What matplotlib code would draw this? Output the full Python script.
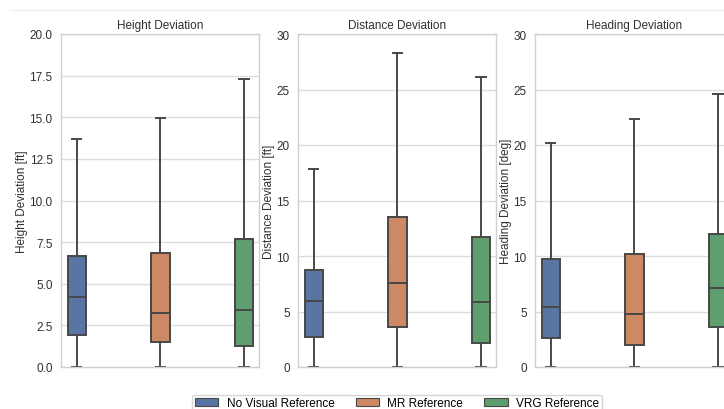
import colorsys
import matplotlib
matplotlib.use("Agg")
import matplotlib.pyplot as plt
import matplotlib.colors as mcolors
from matplotlib.patches import Patch
from matplotlib.lines import Line2D

plt.rcParams['font.family'] = ['Liberation Sans', 'DejaVu Sans']
plt.rcParams['font.size'] = 8.5

groups = ["No Visual Reference", "MR Reference", "VRG Reference"]
base_colors = ["#4c72b0", "#dd8452", "#55a868"]

titles = ["Height Deviation", "Distance Deviation", "Heading Deviation"]
ylabels = ["Height Deviation [ft]", "Distance Deviation [ft]", "Heading Deviation [deg]"]
ylims = [20, 30, 30]
ytick_steps = [2.5, 5, 5]

# per panel: [whislo, q1, median, q3, whishi] for each group
height_stats = [[0, 1.92, 4.22, 6.65, 13.7],
                [0, 1.48, 3.22, 6.82, 14.93],
                [0, 1.28, 3.42, 7.69, 17.28]]
distance_stats = [[0, 2.73, 5.98, 8.77, 17.8],
                  [0, 3.57, 7.6, 13.48, 28.3],
                  [0, 2.13, 5.88, 11.7, 26.1]]
heading_stats = [[0, 2.64, 5.38, 9.76, 20.18],
                 [0, 1.98, 4.77, 10.15, 22.3],
                 [0, 3.63, 7.14, 11.98, 24.6]]
panels = [height_stats, distance_stats, heading_stats]


def desaturate(c, prop=0.75):
    r, g, b = mcolors.to_rgb(c)
    h, l, s = colorsys.rgb_to_hls(r, g, b)
    return colorsys.hls_to_rgb(h, l, s * prop)


colors = [desaturate(c) for c in base_colors]
edge = "#474747"
text_color = "#303030"

fig = plt.figure(figsize=(7.24, 4.10), dpi=100)
lefts = [61, 298, 535]
W, H = 724, 410
axes = []
for i in range(3):
    ax = fig.add_axes([lefts[i] / W, (H - 368) / H, 198 / W, 333 / H])
    axes.append(ax)
    stats = []
    for s in panels[i]:
        stats.append(dict(whislo=s[0], q1=s[1], med=s[2], q3=s[3], whishi=s[4], fliers=[]))
    bp = ax.bxp(stats, positions=[0, 1, 2], widths=0.22, patch_artist=True,
                showfliers=False, capwidths=0.11,
                boxprops=dict(edgecolor=edge, linewidth=1.4),
                medianprops=dict(color=edge, linewidth=1.4),
                whiskerprops=dict(color=edge, linewidth=1.4),
                capprops=dict(color=edge, linewidth=1.4))
    for patch, col in zip(bp['boxes'], colors):
        patch.set_facecolor(col)
    ax.set_xlim(-0.19, 2.18)
    ax.set_ylim(0, ylims[i])
    ticks = [k * ytick_steps[i] for k in range(int(round(ylims[i] / ytick_steps[i])) + 1)]
    ax.set_yticks(ticks)
    if ytick_steps[i] == 2.5:
        ax.set_yticklabels([f"{t:.1f}" for t in ticks])
    else:
        ax.set_yticklabels([f"{int(t)}" for t in ticks])
    ax.set_xticks([])
    ax.set_title(titles[i], fontsize=8.5, color=text_color, pad=4)
    ax.set_ylabel(ylabels[i], fontsize=8.5, color=text_color, labelpad=1)
    ax.grid(axis='y', color="#dcdcdc", linewidth=1.0)
    ax.set_axisbelow(True)
    ax.tick_params(axis='y', length=0, colors=text_color, labelsize=8.5, pad=6)
    for sp in ax.spines.values():
        sp.set_color("#d0d0d0")
        sp.set_linewidth(1.0)

fig.add_artist(Line2D([10 / W, 1.0], [1 - 11 / H, 1 - 11 / H], color="#eeeeee", linewidth=1.0))

handles = [Patch(facecolor=c, edgecolor=edge, linewidth=0.8) for c in colors]
fig.legend(handles, groups, loc='upper center', bbox_to_anchor=(397 / W, 1 - 390 / H),
           ncol=3, frameon=True, fontsize=8.5, edgecolor="#cccccc",
           handlelength=2.0, handleheight=0.6, handletextpad=0.7,
           columnspacing=1.8, borderpad=0.2, fancybox=True)

fig.savefig("out.png", dpi=100)
